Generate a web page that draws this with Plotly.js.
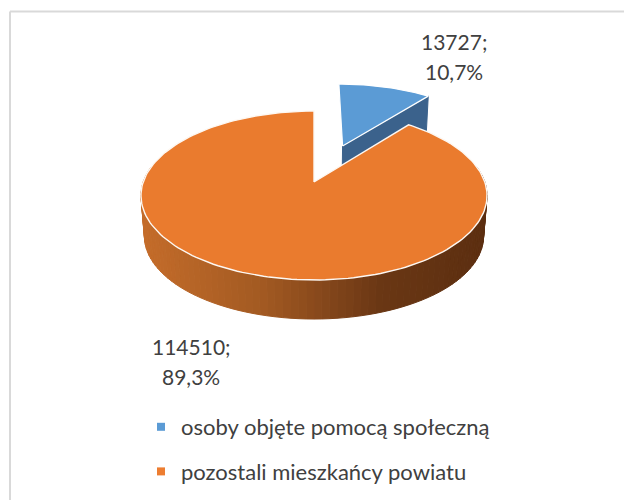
<!DOCTYPE html>
<html><head><meta charset="utf-8">
<script src="https://cdn.plot.ly/plotly-3.0.1.min.js"></script>
<style>html,body{margin:0;padding:0;background:#fff}</style></head>
<body><div id="chart" style="width:624px;height:500px"></div>
<script>
const categories = ["osoby objęte pomocą społeczną", "pozostali mieszkańcy powiatu"];
const values = [13727, 114510];
const percentLabels = ["10,7%", "89,3%"];
const topColors = ["#5B9BD5", "#EA7B2E"];
const legendColors = ["#5B9BD5", "#ED7D31"];
const wallColor = "#3B628C";
const wallStops = [[141, [196,108,42]], [260, [163,90,34]], [314, [138,74,28]], [380, [106,55,20]], [487, [92,46,16]]];

// perspective projection of the pie disc onto pixel-like axis units
const C = {cx:314, cy:182, A:170.8, B:82.3, k:0.16, drop:41, shrink:0.98};
function proj(x, y, low) {
  const d = 1 + C.k * y, s = low ? C.shrink : 1;
  return [C.cx + C.A * s * x / d, C.cy + (low ? C.drop : 0) - C.B * s * y / d];
}
const total = values[0] + values[1];
const end0 = values[0] / total * 2 * Math.PI;
const explode = [0.18, 0.47];
function rim(a0, a1, n, ox, oy, low) {
  const pts = [];
  for (let i = 0; i <= n; i++) {
    const a = a0 + (a1 - a0) * i / n;
    pts.push(proj(Math.sin(a) + ox, Math.cos(a) + oy, low));
  }
  return pts;
}
function poly(pts, fill, line, lw) {
  const closed = pts.concat([pts[0]]);
  return {x: closed.map(p => p[0]), y: closed.map(p => p[1]), mode: "lines", fill: "toself",
    fillcolor: fill, line: {color: line || fill, width: lw === undefined ? 1 : lw},
    hoverinfo: "skip", showlegend: false};
}
function wallCol(x) {
  for (let i = 1; i < wallStops.length; i++) {
    if (x <= wallStops[i][0]) {
      const [x0, c0] = wallStops[i-1], [x1, c1] = wallStops[i];
      const t = Math.max(0, (x - x0) / (x1 - x0));
      return "rgb(" + c0.map((c, j) => Math.round(c + (c1[j] - c) * t)).join(",") + ")";
    }
  }
  return "rgb(" + wallStops[wallStops.length-1][1].join(",") + ")";
}
const traces = [];
// blue wedge: cut wall then top
const [ox, oy] = explode;
const blueApex = proj(ox, oy, false), blueApexLow = proj(ox, oy, true);
const blueCorner = proj(Math.sin(end0) + ox, Math.cos(end0) + oy, false);
const blueCornerLow = proj(Math.sin(end0) + ox, Math.cos(end0) + oy, true);
traces.push(poly([blueApex, blueCorner, blueCornerLow, blueApexLow], wallColor));
traces.push(poly([blueApex].concat(rim(0, end0, 30, ox, oy, false)), topColors[0], "#ffffff", 1.2));
// orange wall, front half, as vertical strips
const N = 90;
for (let i = 0; i < N; i++) {
  const a0 = Math.PI/2 - 0.2 + (Math.PI + 0.4) * i / N, a1 = Math.PI/2 - 0.2 + (Math.PI + 0.4) * (i+1) / N;
  const p0 = proj(Math.sin(a0), Math.cos(a0), false), p1 = proj(Math.sin(a1), Math.cos(a1), false);
  const q0 = proj(Math.sin(a0), Math.cos(a0), true), q1 = proj(Math.sin(a1), Math.cos(a1), true);
  traces.push(poly([p0, p1, q1, q0], wallCol((p0[0] + p1[0]) / 2)));
}
// orange top
traces.push(poly([[C.cx, C.cy]].concat(rim(end0, 2 * Math.PI, 200, 0, 0, false)), topColors[1], "#fdf8f3", 1.4));
// legend entries
categories.forEach((c, i) => traces.push({x: [null], y: [null], mode: "markers", name: c, legendgroup: "g" + i,
  marker: {symbol: "square", size: 8, color: legendColors[i]}, hoverinfo: "skip"}));

const textColor = "#404040", font = "Lato, 'Open Sans', sans-serif";
const labelPos = [[454, 41, 454, 71], [191, 346, 191, 376]];
const annotations = [];
values.forEach((v, i) => {
  annotations.push({x: labelPos[i][0], y: labelPos[i][1], text: v + ";"});
  annotations.push({x: labelPos[i][2], y: labelPos[i][3], text: percentLabels[i]});
});
const layout = {
  width: 624, height: 500, margin: {l:0, r:0, t:0, b:0},
  paper_bgcolor: "#fff", plot_bgcolor: "#fff",
  xaxis: {range: [0, 624], visible: false, fixedrange: true},
  yaxis: {range: [500, 0], visible: false, fixedrange: true},
  showlegend: true,
  legend: {x: 141/624, y: 1 - 406/500, xanchor: "left", yanchor: "top", tracegroupgap: 13,
    font: {family: font, size: 22, color: textColor}, bgcolor: "rgba(0,0,0,0)"},
  annotations: annotations.map(a => Object.assign(a, {xref: "x", yref: "y", showarrow: false, align: "center",
    font: {family: font, size: 21, color: textColor}})),
  shapes: [
    {type: "line", xref: "x", yref: "y", x0: 10, x1: 10, y0: 11.5, y1: 500, line: {color: "#d9d9d9", width: 2}},
    {type: "line", xref: "x", yref: "y", x0: 10, x1: 624, y0: 11.5, y1: 11.5, line: {color: "#d9d9d9", width: 2}}
  ]
};
Plotly.newPlot("chart", traces, layout, {displayModeBar: false, staticPlot: true});
</script></body></html>
